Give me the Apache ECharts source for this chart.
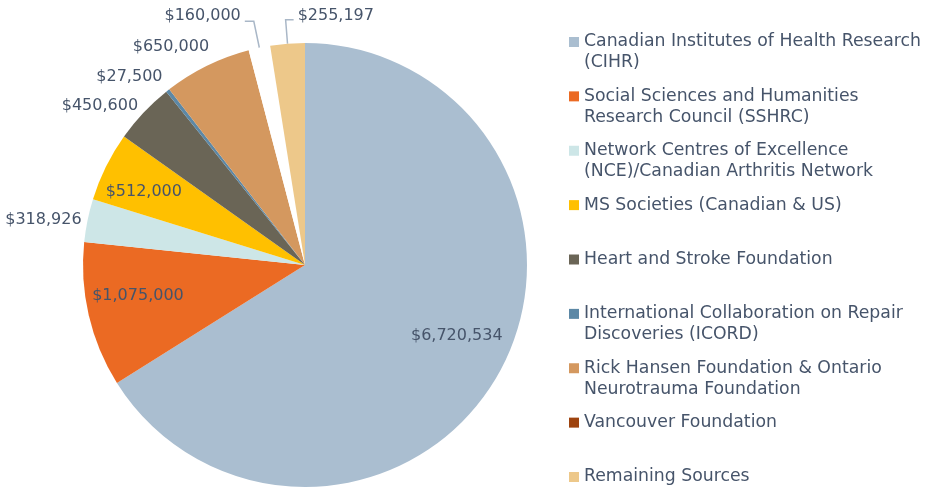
<!DOCTYPE html>
<html>
<head>
<meta charset="utf-8">
<script src="https://cdn.jsdelivr.net/npm/echarts@6/dist/echarts.min.js"></script>
<style>html,body{margin:0;padding:0;background:#fff}#c{width:925px;height:489px}</style>
</head>
<body>
<div id="c"></div>
<script>
const categories = [
  'Canadian Institutes of Health Research (CIHR)',
  'Social Sciences and Humanities Research Council (SSHRC)',
  'Network Centres of Excellence (NCE)/Canadian Arthritis Network',
  'MS Societies (Canadian & US)',
  'Heart and Stroke Foundation',
  'International Collaboration on Repair Discoveries (ICORD)',
  'Rick Hansen Foundation & Ontario Neurotrauma Foundation',
  'Vancouver Foundation',
  'Remaining Sources'
];
const values = [6720534, 1075000, 318926, 512000, 450600, 27500, 650000, 160000, 255197];
const legendLabels = [
  'Canadian Institutes of Health Research\n(CIHR)',
  'Social Sciences and Humanities\nResearch Council (SSHRC)',
  'Network Centres of Excellence\n(NCE)/Canadian Arthritis Network',
  'MS Societies (Canadian & US)',
  'Heart and Stroke Foundation',
  'International Collaboration on Repair\nDiscoveries (ICORD)',
  'Rick Hansen Foundation & Ontario\nNeurotrauma Foundation',
  'Vancouver Foundation',
  'Remaining Sources'
];

// styling
const sliceColors = ['#AABED0','#EB6A23','#CDE6E7','#FFC000','#6A6556','#5C88A6','#D4985F','#FFFFFF','#EDC88A'];
const legendColors = ['#AABED0','#EB6A23','#CDE6E7','#FFC000','#6A6556','#5C88A6','#D4985F','#9E430F','#EDC88A'];
const labelPos = ['inside','inside','outside','inside','outside','outside','outside','outside','outside'];
const lineShow = [false,false,false,false,false,false,false,true,true];
const lineLen = [2,2,2,2,2,2,2,27,24];
const lineLen2 = [0,0,0,0,0,0,0,9,8];
const labelShift = [[52,16],[-56,5],[0,0],[-59,-23],[0,-5],[0,-12],[7,-17],[0,-5],[0,0]];
const textColor = '#46546A';
const font = 'DejaVu Sans';

const fmt = v => '$' + v.toLocaleString('en-US');

const seriesData = categories.map((name, i) => ({
  name: name,
  value: values[i],
  itemStyle: { color: sliceColors[i] },
  label: { position: labelPos[i] },
  labelLine: { show: lineShow[i], length: lineLen[i], length2: lineLen2[i] }
}));

const legends = categories.map((name, i) => {
  const parts = legendLabels[i].split('\n');
  const txt = ' \n' + parts[0] + '\n' + (parts[1] || ' ');
  return {
    left: 569,
    top: 10.5 + i * 54.375,
    orient: 'vertical',
    padding: 0,
    icon: 'rect',
    itemWidth: 10,
    itemHeight: 10,
    selectedMode: false,
    formatter: () => txt,
    textStyle: { fontFamily: font, fontSize: 17.3, color: textColor, lineHeight: 21 },
    data: [{ name: name, itemStyle: { color: legendColors[i] } }]
  };
});

const chart = echarts.init(document.getElementById('c'), null, { renderer: 'canvas' });
chart.setOption({
  animation: false,
  backgroundColor: '#fff',
  legend: legends,
  series: [{
    type: 'pie',
    center: [305, 265],
    radius: [0, 222],
    startAngle: 90,
    clockwise: true,
    avoidLabelOverlap: false,
    itemStyle: { borderColor: '#fff', borderWidth: 0 },
    label: {
      show: true,
      formatter: p => fmt(p.value),
      fontFamily: font,
      fontSize: 16,
      color: textColor,
      distanceToLabelLine: 4
    },
    labelLine: { lineStyle: { color: '#A9B7C7', width: 1.5 }, smooth: false },
    labelLayout: function (p) {
      const i = p.dataIndex;
      if (i === 8 && p.labelLinePoints) {
        const pts = p.labelLinePoints.map(q => [q[0], q[1]]);
        pts[2][0] = pts[1][0] + (pts[1][0] - pts[2][0]);
        return {
          x: pts[2][0] + 4,
          y: pts[2][1] - 4,
          align: 'left',
          verticalAlign: 'middle',
          labelLinePoints: pts
        };
      }
      return { dx: labelShift[i][0], dy: labelShift[i][1] };
    },
    emphasis: { disabled: true },
    data: seriesData
  }]
});
</script>
</body>
</html>
